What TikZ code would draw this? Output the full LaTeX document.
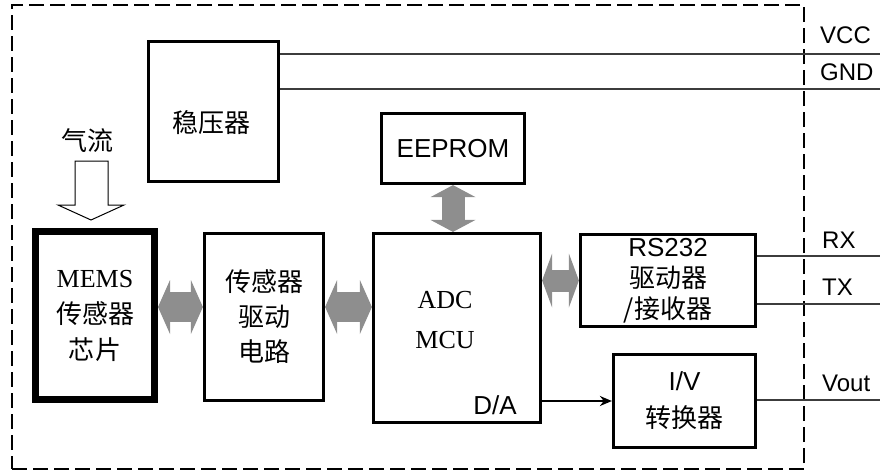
\documentclass[tikz,border=0pt]{standalone}
\usepackage{fontspec}
\setmainfont{Liberation Sans}
\newfontfamily\tms{Liberation Serif}
\newfontfamily\cjk{Noto Sans CJK SC}
\usetikzlibrary{arrows.meta,calc}
\definecolor{cBus}{HTML}{8E8E8E}
\definecolor{cWire}{HTML}{3C3C3C}

\begin{document}
\begin{tikzpicture}[
  x=1pt,y=-1pt,
  blk/.style 2 args={rectangle,draw=black,line width=3.2pt,fill=white,inner sep=0pt,
              align=center,minimum width=#1,minimum height=#2,font=\fontsize{26}{35}\selectfont},
  txt/.style={inner sep=0pt,align=center,font=\fontsize{26}{#1}\selectfont},
  txt/.default=35,
  lbl/.style={anchor=west,inner sep=0pt,font=\fontsize{24}{28}\selectfont},
  frame/.style={rectangle,draw=black,line width=2.8pt,dash pattern=on 15pt off 6pt,inner sep=0pt},
  bus/.style n args={3}{line width=#1,draw=cBus,
              arrows={Triangle[length=#3,width=#2,line width=0pt]-Triangle[length=#3,width=#2,line width=0pt]}},
  wire/.style={line width=1.2pt,draw=cWire},
  flow/.style={draw=black,line width=1pt,fill=white,line join=miter},
  ar/.style={-{Stealth[length=12pt,width=10pt]},line width=1.8pt}
]
\useasboundingbox (0,0) rectangle (880,474);

%======================= SYSTEM FRAME =======================
\node[frame,minimum width=792pt,minimum height=464pt] (sys) at (408,237) {};

%======================= POWER =======================
\node[blk={130pt}{140pt}] (reg) at (213.5,111.5) {};
\node[txt] (regT) at (211,123) {\cjk 稳压器};
\coordinate (vccR) at (880,54);
\coordinate (gndR) at (880,89);
\draw[wire] (reg.east |- vccR) -- (vccR);
\draw[wire] (reg.east |- gndR) -- (gndR);
\node[lbl] (vcc) at (820,35) {VCC};
\node[lbl] (gnd) at (820,72) {GND};

%======================= SENSOR CHAIN =======================
\node[txt] (flowT) at (87,141) {\cjk 气流};
\draw[flow] (75,161) -- (108,161) -- (108,205) -- (124,205) -- (91,220) -- (58,205) -- (75,205) -- cycle;

\node[blk={119pt}{168pt},line width=7pt,font=\fontsize{26}{36}\selectfont] (mems) at (95,315.5)
  {{\tms MEMS}\\{\cjk 传感器}\\{\cjk 芯片}};
\node[blk={119pt}{167pt}] (drv) at (264,317) {{\cjk 传感器}\\{\cjk 驱动}\\{\cjk 电路}};

%======================= MCU + MEMORY =======================
\node[blk={167pt}{189pt}] (mcu) at (457,328) {};
\node[txt=40] (mcuT) at (445,320) {{\tms ADC}\\{\tms MCU}};
\node[txt] (da) at (495,405) {D/A};
\node[blk={143pt}{70pt}] (eep) at (453,148.5) {EEPROM};

%======================= INTERFACES =======================
\node[blk={175pt}{92pt},font=\fontsize{26}{31}\selectfont] (rs) at (668,280.5)
  {RS232\\{\cjk 驱动器}\\{\cjk /接收器}};
\node[blk={142pt}{93pt},font=\fontsize{26}{37}\selectfont] (iv) at (684.5,401)
  {I/V\\{\cjk 转换器}};

\coordinate (rxR) at (880,256);
\coordinate (txR) at (880,304);
\coordinate (voutR) at (880,400);
\draw[wire] (rs.east |- rxR) -- (rxR);
\draw[wire] (rs.east |- txR) -- (txR);
\draw[wire] (iv.east |- voutR) -- (voutR);
\node[lbl] (rx) at (822,240) {RX};
\node[lbl] (tx) at (822,287) {TX};
\node[lbl] (vout) at (822,383) {Vout};

%======================= BUSES =======================
\coordinate (busA) at (0,307);
\draw[bus={30pt}{54pt}{12pt}] (mems.east |- busA) -- (drv.west |- busA);
\draw[bus={30pt}{54pt}{12pt}] (drv.east |- busA) -- (mcu.west |- busA);
\draw[bus={22pt}{54pt}{10pt}] (mcu.east |- rs.west) -- (rs.west);
\draw[bus={23pt}{45pt}{12pt}] (eep.south) -- (eep.south |- mcu.north);
\draw[ar] (mcu.east |- iv.west) -- (iv.west);

\end{tikzpicture}
\end{document}
